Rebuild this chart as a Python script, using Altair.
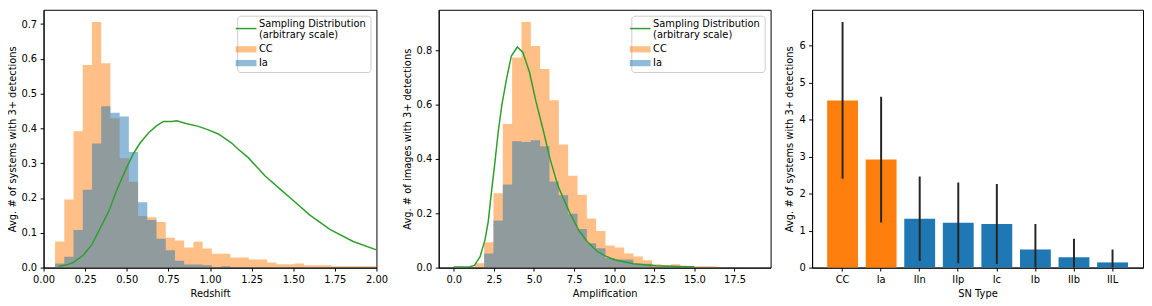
import altair as alt
import pandas as pd

# ---------------- data ----------------
series_domain = ["Sampling Distribution", "CC", "Ia"]
series_colors = ["#2ca02c", "#ff7f0e", "#1f77b4"]

# Panel 1: redshift histograms (uniform bins)
z_first_edge = 0.0693
z_bin_width = 0.0554
cc_z = [0.075, 0.196, 0.392, 0.582, 0.706, 0.587, 0.429, 0.314, 0.247, 0.148,
        0.145, 0.131, 0.086, 0.078, 0.058, 0.074, 0.055, 0.040, 0.040, 0.029,
        0.029, 0.0235, 0.0235, 0.015, 0.0094, 0.0094, 0.012, 0.0066, 0.0066, 0.0066,
        0.004, 0.004, 0.004, 0.004, 0.004]
ia_z = [0.012, 0.031, 0.108, 0.224, 0.357, 0.464, 0.445, 0.434, 0.332, 0.188,
        0.137, 0.083, 0.050, 0.020, 0.009, 0.009, 0.007, 0.001, 0.004, 0.0,
        0.0, 0.0, 0.0, 0.0, 0.0, 0.0, 0.0, 0.0, 0.0, 0.0,
        0.0, 0.0, 0.0, 0.0, 0.0]
z_line_x = [0.09, 0.14, 0.18, 0.24, 0.29, 0.34, 0.39, 0.44, 0.49, 0.54, 0.58, 0.63,
            0.68, 0.72, 0.77, 0.80, 0.85, 0.93, 0.99, 1.05, 1.13, 1.17, 1.23, 1.33,
            1.43, 1.50, 1.60, 1.72, 1.86, 2.00]
z_line_y = [0.003, 0.008, 0.015, 0.036, 0.066, 0.113, 0.160, 0.223, 0.278, 0.328, 0.358, 0.387,
            0.408, 0.420, 0.420, 0.422, 0.415, 0.406, 0.396, 0.384, 0.358, 0.340, 0.316, 0.264,
            0.222, 0.193, 0.151, 0.110, 0.075, 0.051]

# Panel 2: amplification histograms (uniform bins)
a_first_edge = 1.31
a_bin_width = 0.582
cc_a = [0.016, 0.093, 0.274, 0.529, 0.773, 0.904, 0.816, 0.731, 0.616, 0.453,
        0.338, 0.268, 0.181, 0.135, 0.081, 0.074, 0.052, 0.041, 0.027, 0.012,
        0.0085, 0.012, 0.002, 0.005, 0.005, 0.005, 0.0, 0.0, 0.0, 0.001]
ia_a = [0.0, 0.052, 0.173, 0.306, 0.465, 0.462, 0.469, 0.447, 0.317, 0.266,
        0.198, 0.142, 0.090, 0.071, 0.035, 0.030, 0.030, 0.0145, 0.0145, 0.003,
        0.004, 0.003, 0.0, 0.0, 0.0, 0.0, 0.0, 0.0, 0.0, 0.0]
a_line_x = [0.0, 0.5, 1.0, 1.29, 1.64, 1.95, 2.15, 2.36, 2.57, 2.77, 3.0, 3.29, 3.59,
            3.96, 4.31, 4.72, 5.13, 5.6, 6.0, 6.5, 7.2, 7.8, 8.3, 8.9, 9.4, 10.0,
            11.2, 12.6, 14.0, 15.0]
a_line_y = [0.002, 0.002, 0.003, 0.008, 0.040, 0.103, 0.170, 0.284, 0.390, 0.500, 0.600, 0.695, 0.779,
            0.812, 0.792, 0.719, 0.610, 0.500, 0.400, 0.300, 0.205, 0.137, 0.097, 0.062, 0.044, 0.029,
            0.0145, 0.007, 0.004, 0.003]

# Panel 3: per-type averages with error bars
sn_types = ["CC", "Ia", "IIn", "IIp", "Ic", "Ib", "IIb", "IIL"]
sn_means = [4.52, 2.92, 1.32, 1.21, 1.18, 0.49, 0.28, 0.14]
sn_errs = [2.12, 1.70, 1.14, 1.09, 1.08, 0.69, 0.50, 0.35]

z_ticks = [0.0, 0.25, 0.5, 0.75, 1.0, 1.25, 1.5, 1.75, 2.0]
z_yticks = [0.0, 0.1, 0.2, 0.3, 0.4, 0.5, 0.6, 0.7]
a_ticks = [0.0, 2.5, 5.0, 7.5, 10.0, 12.5, 15.0, 17.5]
a_yticks = [0.0, 0.2, 0.4, 0.6, 0.8]
sn_yticks = [0, 1, 2, 3, 4, 5, 6]

FONT = "DejaVu Sans"
W1, W2, W3, H = 337, 336, 335, 261


def hist_table(first_edge, width, values, series):
    rows = [{"x": first_edge + i * width, "y": v, "series": series} for i, v in enumerate(values)]
    rows.append({"x": first_edge + len(values) * width, "y": 0.0, "series": series})
    return pd.DataFrame(rows)


def line_table(xs, ys):
    return pd.DataFrame({"x": xs, "y": ys, "series": series_domain[0]})


SD = series_domain[0]


def make_legend():
    return alt.Legend(
        title=" ", titleFontSize=1, titlePadding=3,
        orient="top-right", offset=6, padding=4,
        strokeColor="#cccccc", fillColor="rgba(255,255,255,0.8)", cornerRadius=3,
        labelFont=FONT, labelFontSize=10, labelColor="black", labelOffset=8,
        symbolSize=441, rowPadding=4, labelLimit=300,
        labelExpr=f"datum.value === '{SD}' ? ['Sampling Distribution', '(arbitrary scale)'] : datum.label",
        labelBaseline={"expr": f"datum.value === '{SD}' ? 'bottom' : 'middle'"},
        symbolType={"expr": f"datum.value === '{SD}' ? 'stroke' : 'M-1,-0.3H1V0.3H-1Z'"},
        symbolStrokeWidth={"expr": f"datum.value === '{SD}' ? 1.5 : 0"},
        symbolOpacity={"expr": f"datum.value === '{SD}' ? 1 : 0.5"},
    )


def hist_panel(cc_t, ia_t, line_t, xdom, xticks, xfmt, xtitle, ydom, yticks, ytitle, width):
    cscale = alt.Scale(domain=series_domain, range=series_colors)
    x = alt.X("x:Q", scale=alt.Scale(domain=xdom, nice=False, zero=False),
              axis=alt.Axis(values=xticks, format=xfmt, title=xtitle))
    y = alt.Y("y:Q", scale=alt.Scale(domain=ydom, nice=False),
              axis=alt.Axis(values=yticks, format=".1f", title=ytitle))
    cc_l = alt.Chart(cc_t).mark_area(interpolate="step-after", fillOpacity=0.5, clip=True).encode(
        x=x, y=y, color=alt.Color("series:N", scale=cscale, legend=make_legend()))
    ia_l = alt.Chart(ia_t).mark_area(interpolate="step-after", fillOpacity=0.5, clip=True).encode(
        x=x, y=y, color=alt.Color("series:N", scale=cscale, legend=make_legend()))
    ln = alt.Chart(line_t).mark_line(strokeWidth=1.5, clip=True).encode(
        x=x, y=y, color=alt.Color("series:N", scale=cscale, legend=make_legend()))
    return alt.layer(cc_l, ia_l, ln).properties(width=width, height=H)


p1 = hist_panel(hist_table(z_first_edge, z_bin_width, cc_z, "CC"),
                hist_table(z_first_edge, z_bin_width, ia_z, "Ia"),
                line_table(z_line_x, z_line_y),
                [0, 2.0], z_ticks, ".2f", "Redshift", [0, 0.741], z_yticks,
                "Avg. # of systems with 3+ detections", W1)

p2 = hist_panel(hist_table(a_first_edge, a_bin_width, cc_a, "CC"),
                hist_table(a_first_edge, a_bin_width, ia_a, "Ia"),
                line_table(a_line_x, a_line_y),
                [-0.94, 19.75], a_ticks, ".1f", "Amplification", [0, 0.949], a_yticks,
                "Avg. # of images with 3+ detections", W2)

sn_df = pd.DataFrame({
    "type": sn_types, "mean": sn_means,
    "lo": [m - e for m, e in zip(sn_means, sn_errs)],
    "hi": [m + e for m, e in zip(sn_means, sn_errs)],
})
xb = alt.X("type:N", sort=sn_types,
           scale=alt.Scale(paddingInner=0.2, paddingOuter=0.39),
           axis=alt.Axis(title="SN Type", labelAngle=0))
yscale = alt.Scale(domain=[0, 6.97], nice=False)
bars = alt.Chart(sn_df).mark_bar().encode(
    x=xb,
    y=alt.Y("mean:Q", scale=yscale,
            axis=alt.Axis(values=sn_yticks, format="d", title="Avg. # of systems with 3+ detections")),
    color=alt.condition("datum.type === 'CC' || datum.type === 'Ia'",
                        alt.value("#ff7f0e"), alt.value("#1f77b4")),
)
errs = alt.Chart(sn_df).mark_rule(color="#262626", strokeWidth=2, clip=True).encode(
    x=xb, y=alt.Y("lo:Q", scale=yscale), y2="hi:Q")
p3 = alt.layer(bars, errs).properties(width=W3, height=H)

chart = alt.hconcat(p1, p2, p3, spacing=13).resolve_scale(color="independent").properties(
    padding={"left": -2, "top": -1, "right": 0, "bottom": 0}
).configure(font=FONT).configure_view(stroke="black", strokeWidth=1).configure_axis(
    labelFont=FONT, titleFont=FONT, labelFontSize=10, titleFontSize=10,
    titleFontWeight="normal", labelColor="black", titleColor="black",
    tickColor="black", domainColor="black", tickSize=3.5, labelPadding=3.5,
    titlePadding=4, grid=False, labelFlush=False, labelOverlap=False,
).configure_legend(
    strokeColor="#cccccc", fillColor="white", cornerRadius=3, padding=4,
)

chart.save("out.html", embed_options={"renderer": "svg", "actions": False})
